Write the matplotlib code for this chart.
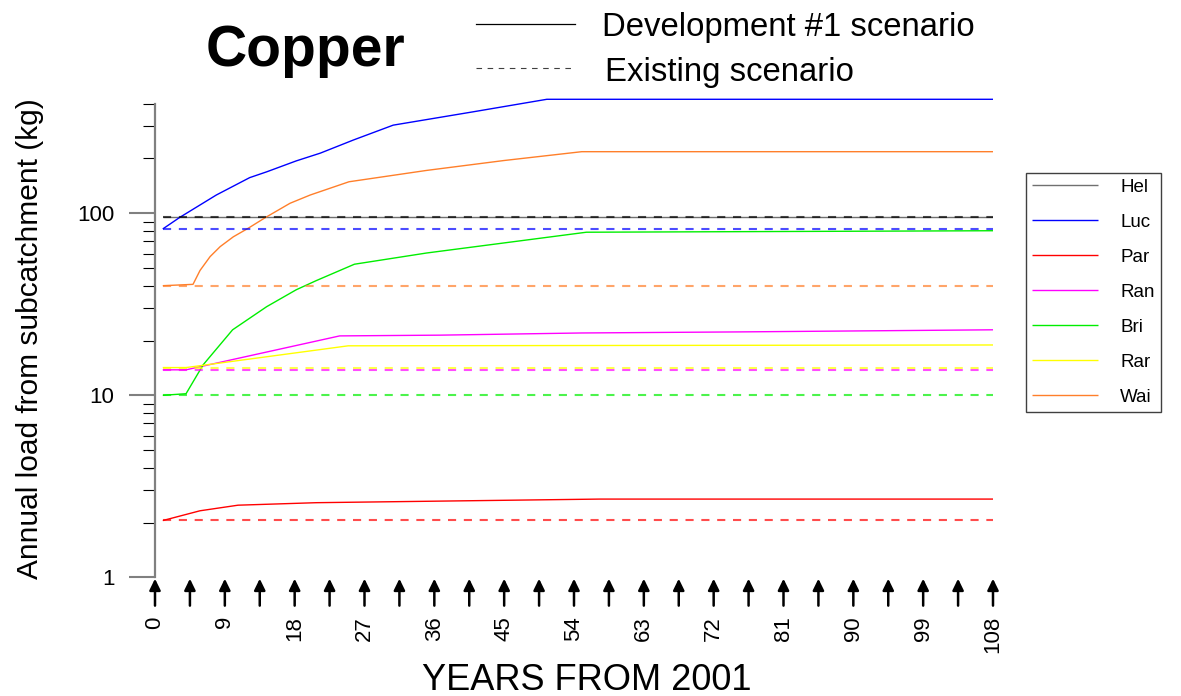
import numpy as np
import matplotlib.pyplot as plt
from matplotlib.lines import Line2D
from matplotlib.ticker import LogLocator, NullFormatter

plt.rcParams['font.family'] = ['Liberation Sans', 'DejaVu Sans']


# =========================
# Data
# =========================

names = ["Hel", "Luc", "Par", "Ran", "Bri", "Rar", "Wai"]
dev_colors = ["#707070", "#0000ff", "#ff0000", "#ff00ff", "#00ee00", "#ffff00", "#ff7f2a"]
exist_colors = ["#000000", "#0000ff", "#ff0000", "#ff00ff", "#00ee00", "#ffff00", "#ff7f2a"]

hel_years = [1, 108]
hel_dev = [95, 95]
luc_years = [1, 3.2, 7.9, 12.2, 14.4, 18.2, 21.3, 25.6, 30.7, 41, 50.5, 108]
luc_dev = [82, 95, 126, 157, 169, 194, 214, 253, 305, 361, 423, 423]
par_years = [1, 5.8, 10.7, 20.8, 57.3, 108]
par_dev = [2.05, 2.32, 2.49, 2.57, 2.69, 2.69]
ran_years = [1, 4, 23.8, 36.7, 55, 75.4, 108]
ran_dev = [13.8, 13.8, 21.2, 21.4, 22.0, 22.3, 22.9]
bri_years = [1, 4, 6.2, 10, 14.4, 18.2, 20.8, 25.7, 35, 55.6, 108]
bri_dev = [10, 10.2, 14.7, 22.9, 30.7, 38, 42.7, 52.5, 60.5, 78.7, 80.2]
rar_years = [1, 4, 24.9, 108]
rar_dev = [14.2, 14.2, 18.7, 18.9]
wai_years = [1, 4.9, 5.8, 7.1, 8.4, 10.1, 12, 14.2, 17.4, 20, 25, 35, 45, 55, 108]
wai_dev = [40, 40.7, 48.5, 57.8, 65.6, 74.3, 82.7, 94.6, 113.5, 126, 149, 172, 195, 218, 218]

# existing scenario is flat over the whole period
exist_years = [1, 108]
existing = [95, 82, 2.06, 13.7, 10.0, 14.1, 40]

dev_years = [hel_years, luc_years, par_years, ran_years, bri_years, rar_years, wai_years]
dev_loads = [hel_dev, luc_dev, par_dev, ran_dev, bri_dev, rar_dev, wai_dev]

label_ticks = np.arange(0, 109, 9)
arrow_ticks = np.arange(0, 108.1, 4.5)


# =========================
# Figure
# =========================

W, H = 1181, 696
fig = plt.figure(figsize=(W / 100, H / 100), dpi=100)
ax = fig.add_axes([155 / W, (H - 577.3) / H, 838 / W, (577.3 - 94.4) / H])

handles = []
for yrs, vals, c in zip(dev_years, dev_loads, dev_colors):
    h, = ax.plot(yrs, vals, color=c, lw=1.0, solid_capstyle="butt")
    handles.append(h)

for val, c in zip(existing, exist_colors):
    ax.plot(exist_years, [val, val], color=c, lw=1.5, alpha=0.7,
            linestyle=(0, (3.9, 3.7)))

ax.set_yscale("log")
ax.set_xlim(0, 108)
ax.set_ylim(1, 450)

for side in ["top", "right", "bottom"]:
    ax.spines[side].set_visible(False)
ax.spines["left"].set_color("#808080")
ax.spines["left"].set_linewidth(1.6)
ax.spines["left"].set_bounds(1, 400)

ax.set_yticks([1, 10, 100])
ax.set_yticklabels(["1", "10", "100"])
ax.yaxis.set_minor_locator(LogLocator(base=10, subs=np.arange(2, 10)))
ax.yaxis.set_minor_formatter(NullFormatter())
ax.tick_params(axis="y", which="major", length=18.7, width=1.5,
               color="#808080", labelsize=16, pad=10.5)
ax.tick_params(axis="y", which="minor", length=8.6, width=0.8, color="black")

ax.set_xticks(label_ticks)
ax.set_xticklabels([str(t) for t in label_ticks], rotation=90)
ax.tick_params(axis="x", length=0, pad=28, labelsize=16)

# arrow markers under the axis
for x in arrow_ticks:
    ax.annotate("", xy=(x, 1), xytext=(0, -20.4), textcoords="offset points",
                arrowprops=dict(arrowstyle="-|>,head_length=0.45,head_width=0.22",
                                color="black", lw=1.8, shrinkA=0, shrinkB=1.0,
                                mutation_scale=15),
                annotation_clip=False)

# labels and title
fig.text(30 / W, (H - 339) / H, "Annual load from subcatchment (kg)",
         rotation=90, ha="center", va="center", fontsize=21.5)
fig.text(586.5 / W, 6 / H, "YEARS FROM 2001", ha="center", va="baseline",
         fontsize=26)
fig.text(305 / W, (H - 66) / H, "Copper", ha="center", va="baseline",
         fontsize=41, fontweight="bold")

# scenario key at the top
fig.add_artist(Line2D([476 / W, 575 / W], [(H - 24) / H] * 2, color="black", lw=0.9))
fig.add_artist(Line2D([476 / W, 575 / W], [(H - 68) / H] * 2, color="#404040",
                      lw=0.8, linestyle=(0, (5, 5))))
fig.text(602 / W, (H - 36) / H, "Development #1 scenario", ha="left",
         va="baseline", fontsize=23.7)
fig.text(605 / W, (H - 81) / H, "Existing scenario", ha="left",
         va="baseline", fontsize=23.7)

# subcatchment legend
leg = fig.legend(handles, names, loc="upper left",
                 bbox_to_anchor=(1026 / W, (H - 172.7) / H), borderaxespad=0,
                 fontsize=13.5, handlelength=3.5, handletextpad=1.2,
                 labelspacing=0.95, borderpad=0.33, fancybox=False,
                 framealpha=1, edgecolor="#404040")
leg.get_frame().set_linewidth(1.0)

fig.savefig("out.png", dpi=100)
